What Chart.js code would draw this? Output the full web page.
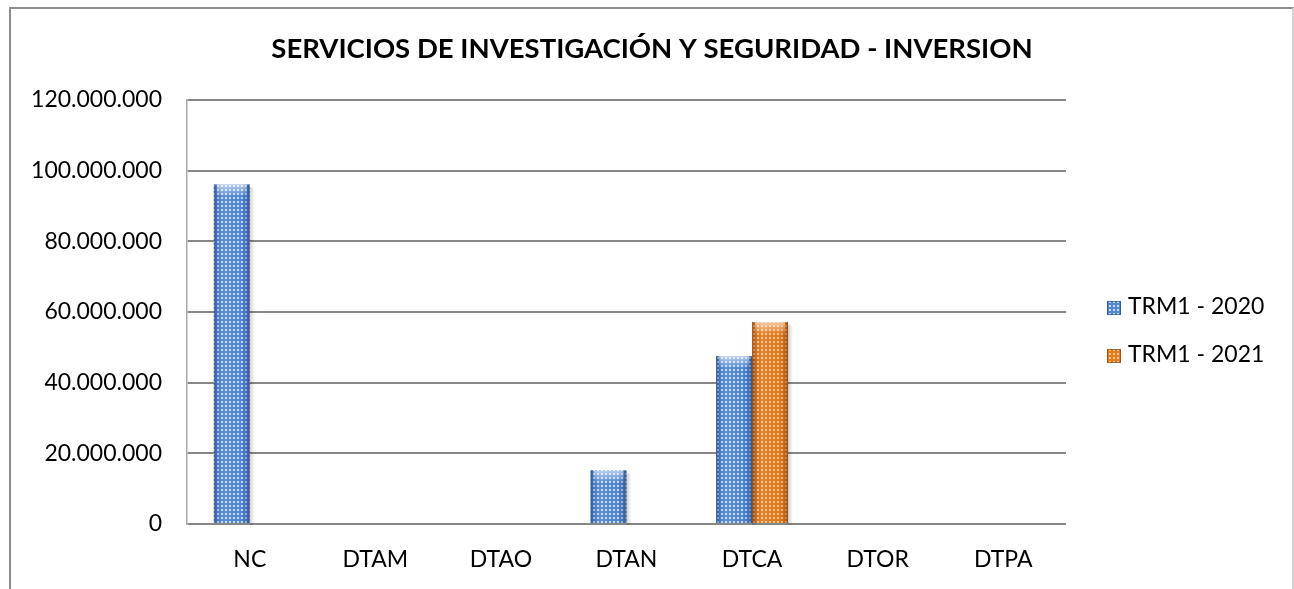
<!DOCTYPE html>
<html>
<head>
<meta charset="utf-8">
<script src="https://cdn.jsdelivr.net/npm/chart.js@4.4.1/dist/chart.umd.min.js"></script>
<style>
  html, body { margin: 0; padding: 0; background: #ffffff; }
  #wrap { position: relative; width: 1294px; height: 589px; overflow: hidden; }
  #frame { position: absolute; left: 9px; top: 7px; width: 1281px; height: 640px;
           border-left: 2px solid #8e8e8e; border-top: 2px solid #8e8e8e; border-right: 2px solid #d4d4d4; }
  canvas { position: absolute; left: 0; top: 0; }
</style>
</head>
<body>
<div id="wrap">
  <div id="frame"></div>
  <canvas id="c" width="1294" height="589"></canvas>
</div>
<script>
const chartTitle = 'SERVICIOS DE INVESTIGACIÓN Y SEGURIDAD - INVERSION';
const categories = ['NC', 'DTAM', 'DTAO', 'DTAN', 'DTCA', 'DTOR', 'DTPA'];
const seriesNames = ['TRM1 - 2020', 'TRM1 - 2021'];
const values2020 = [96100000, 0, 0, 15200000, 47500000, 0, 0];
const values2021 = [0, 0, 0, 0, 57200000, 0, 0];
const yTicks = [0, 20000000, 40000000, 60000000, 80000000, 100000000, 120000000];

function makePattern(base, dot) {
  const t = document.createElement('canvas');
  t.width = 4; t.height = 4;
  const g = t.getContext('2d');
  g.fillStyle = base; g.fillRect(0, 0, 4, 4);
  g.fillStyle = dot;
  g.fillRect(1, 1, 2, 2);
  return document.getElementById('c').getContext('2d').createPattern(t, 'repeat');
}
const bluePat = makePattern('#5087d6', '#cde0f9');
const orangePat = makePattern('#e87a1c', '#f8cc9a');
const edgeColors = ['rgba(30,60,110,', 'rgba(120,55,5,'];

function fmt(v) { return String(v).replace(/\B(?=(\d{3})+(?!\d))/g, '.'); }

const titleCenterPlugin = {
  id: 'titleCenter',
  afterLayout(chart) {
    if (chart.titleBlock) { chart.titleBlock.left = 10; chart.titleBlock.right = chart.width; }
  }
};

const shadePlugin = {
  id: 'shade',
  afterDatasetsDraw(chart) {
    const ctx = chart.ctx;
    chart.data.datasets.forEach((ds, di) => {
      const meta = chart.getDatasetMeta(di);
      meta.data.forEach((bar, i) => {
        if (!ds.data[i]) return;
        const {x, y, base, width} = bar.getProps(['x','y','base','width'], true);
        const l = x - width / 2, r = x + width / 2;
        const c = edgeColors[di];
        ctx.save();
        const s = ctx.createLinearGradient(r, 0, r + 5, 0);
        s.addColorStop(0, 'rgba(0,0,0,0.18)');
        s.addColorStop(1, 'rgba(0,0,0,0)');
        ctx.fillStyle = s;
        ctx.fillRect(r, y + 3, 5, base - y - 1);
        const g = ctx.createLinearGradient(l, 0, r, 0);
        g.addColorStop(0, c + '0.6)');
        g.addColorStop(0.12, c + '0.15)');
        g.addColorStop(0.3, 'rgba(255,255,255,0.08)');
        g.addColorStop(0.75, c + '0.0)');
        g.addColorStop(0.9, c + '0.3)');
        g.addColorStop(1, c + '0.65)');
        ctx.fillStyle = g;
        ctx.fillRect(l, y, width, base - y);
        const h = ctx.createLinearGradient(0, y, 0, y + 12);
        h.addColorStop(0, 'rgba(255,255,255,0.6)');
        h.addColorStop(1, 'rgba(255,255,255,0)');
        ctx.fillStyle = h;
        ctx.fillRect(l + 3, y, width - 6, 12);
        ctx.restore();
      });
    });
  }
};

const legendPlugin = {
  id: 'customLegend',
  afterDraw(chart) {
    const ctx = chart.ctx;
    const x0 = chart.chartArea.right + 41;
    const yc = (chart.chartArea.top + chart.chartArea.bottom) / 2 + 19;
    const gap = 48;
    chart.data.datasets.forEach((ds, i) => {
      const cy = yc + (i - (chart.data.datasets.length - 1) / 2) * gap;
      ctx.save();
      ctx.fillStyle = ds.backgroundColor;
      ctx.fillRect(x0, cy - 6, 14, 14);
      ctx.strokeStyle = edgeColors[i] + '0.6)';
      ctx.lineWidth = 1;
      ctx.strokeRect(x0 + 0.5, cy - 5.5, 13, 13);
      ctx.fillStyle = '#000000';
      ctx.font = '23px Lato';
      ctx.textBaseline = 'middle';
      ctx.textAlign = 'left';
      ctx.fillText(ds.label, x0 + 21, cy);
      ctx.restore();
    });
  }
};

new Chart(document.getElementById('c'), {
  type: 'bar',
  data: {
    labels: categories,
    datasets: [
      { label: seriesNames[0], data: values2020, backgroundColor: bluePat, borderWidth: 0 },
      { label: seriesNames[1], data: values2021, backgroundColor: orangePat, borderWidth: 0 }
    ]
  },
  options: {
    responsive: false,
    animation: false,
    devicePixelRatio: 1,
    layout: { padding: { left: 0, right: 228, top: 0, bottom: 0 } },
    datasets: { bar: { categoryPercentage: 0.573, barPercentage: 1.0 } },
    plugins: {
      legend: { display: false },
      tooltip: { enabled: false },
      title: {
        display: true,
        text: chartTitle,
        color: '#000000',
        font: { family: 'Lato', size: 27.5, weight: 'bold', lineHeight: 1.2 },
        padding: { top: 33, bottom: 34 }
      }
    },
    scales: {
      x: {
        grid: { display: false },
        border: { display: false },
        ticks: { color: '#000000', font: { family: 'Lato', size: 23 }, padding: 14, maxRotation: 0 },
        afterFit(s) { s.height = 65; }
      },
      y: {
        min: 0, max: 120000000,
        afterBuildTicks(s) { s.ticks = yTicks.map(v => ({ value: v })); },
        grid: { color: '#878787', lineWidth: 2, drawTicks: false },
        border: { display: true, color: '#a8a8a8', width: 1.5 },
        ticks: { color: '#000000', font: { family: 'Lato', size: 23 }, padding: 25, callback: v => fmt(v) },
        afterFit(s) { s.width = 187; }
      }
    }
  },
  plugins: [titleCenterPlugin, shadePlugin, legendPlugin]
});
</script>
</body>
</html>
